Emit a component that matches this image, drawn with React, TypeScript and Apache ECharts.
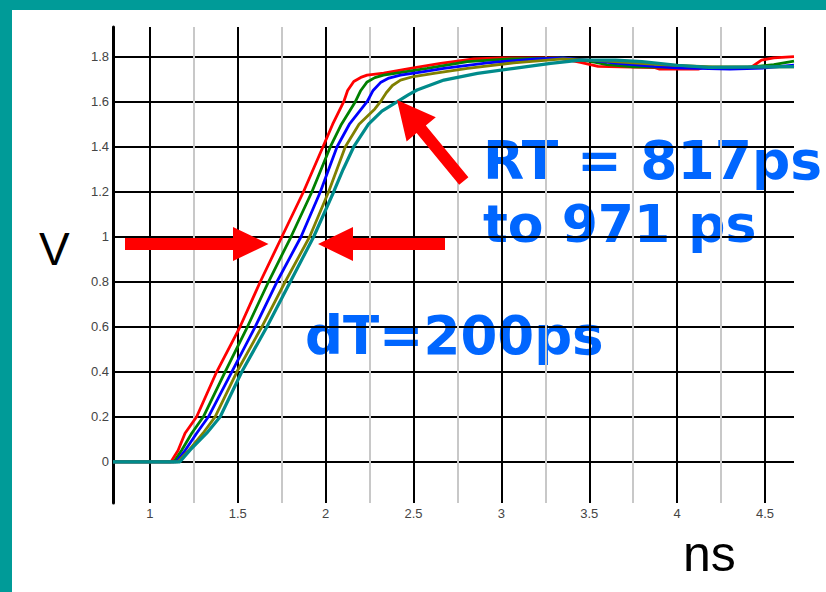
import React, { useEffect, useRef } from 'react';
import * as echarts from 'echarts';

// axis extents (ns, V)
const xMin = 0.79;
const xMax = 4.665;
const yMin = -0.183;
const yMax = 1.932;
const xStep = 0.5;
const yStep = 0.2;

// waveforms [ns, V]
const redData = [
  [0.79, 0], [1.12, 0], [1.16, 0.05], [1.2, 0.127], [1.266, 0.2], [1.38, 0.4], [1.513, 0.6],
  [1.628, 0.8], [1.751, 1.0], [1.874, 1.2], [1.985, 1.4], [2.04, 1.5], [2.103, 1.6], [2.125, 1.65],
  [2.16, 1.69], [2.2, 1.708], [2.236, 1.718], [2.33, 1.727], [2.483, 1.748], [2.654, 1.77], [2.843, 1.79],
  [3.0, 1.795], [3.32, 1.795], [3.45, 1.775], [3.55, 1.757], [3.87, 1.752], [3.9, 1.745],
  [4.12, 1.745], [4.15, 1.752], [4.42, 1.752], [4.48, 1.785], [4.55, 1.795], [4.665, 1.8],
];
const greenData = [
  [0.79, 0], [1.137, 0], [1.18, 0.05], [1.238, 0.127], [1.304, 0.2], [1.428, 0.4], [1.555, 0.6],
  [1.675, 0.8], [1.803, 1.0], [1.922, 1.2], [2.027, 1.4], [2.09, 1.5], [2.169, 1.6], [2.2, 1.65],
  [2.236, 1.688], [2.28, 1.707], [2.329, 1.718], [2.45, 1.733], [2.578, 1.748], [2.807, 1.778], [3.05, 1.79],
  [3.35, 1.795], [3.5, 1.78], [3.6, 1.765], [3.75, 1.755], [4.4, 1.752], [4.55, 1.765], [4.665, 1.78],
];
const blueData = [
  [0.79, 0], [1.149, 0], [1.2, 0.05], [1.266, 0.127], [1.333, 0.2], [1.466, 0.4], [1.599, 0.6],
  [1.723, 0.8], [1.86, 1.0], [1.97, 1.2], [2.065, 1.4], [2.135, 1.5], [2.236, 1.6], [2.27, 1.65],
  [2.312, 1.685], [2.36, 1.705], [2.426, 1.718], [2.55, 1.733], [2.673, 1.748], [2.92, 1.773], [3.2, 1.79],
  [3.35, 1.795], [3.55, 1.78], [3.66, 1.77], [3.87, 1.757], [4.0, 1.75], [4.3, 1.745], [4.5, 1.75],
  [4.665, 1.762],
];
const oliveData = [
  [0.79, 0], [1.16, 0], [1.22, 0.05], [1.302, 0.127], [1.371, 0.2], [1.495, 0.4], [1.637, 0.6],
  [1.77, 0.8], [1.909, 1.0], [2.017, 1.2], [2.112, 1.4], [2.19, 1.5], [2.28, 1.568], [2.312, 1.6],
  [2.345, 1.64], [2.38, 1.672], [2.426, 1.696], [2.5, 1.712], [2.616, 1.726], [2.807, 1.748],
  [3.07, 1.773], [3.35, 1.79], [3.6, 1.78], [3.9, 1.765], [4.2, 1.755], [4.665, 1.755],
];
const tealData = [
  [0.79, 0], [1.171, 0], [1.228, 0.052], [1.323, 0.127], [1.4, 0.2], [1.523, 0.4], [1.666, 0.6],
  [1.799, 0.8], [1.932, 1.0], [2.046, 1.2], [2.1, 1.3], [2.16, 1.4], [2.244, 1.5], [2.32, 1.558],
  [2.408, 1.6], [2.47, 1.63], [2.52, 1.652], [2.673, 1.696], [2.864, 1.726], [3.072, 1.748],
  [3.28, 1.77], [3.45, 1.785], [3.65, 1.785], [3.8, 1.778], [4.0, 1.762], [4.18, 1.753], [4.665, 1.756],
];

const seriesList = [redData, greenData, blueData, oliveData, tealData];
const seriesNames = ['Red', 'Green', 'Blue', 'Olive', 'Teal'];
const seriesColors = ['#ff0000', '#008000', '#0000ff', '#808000', '#008b8b'];
const seriesWidths = [2.8, 2.8, 2.8, 2.8, 3.2];

const annotationRT1 = 'RT = 817ps';
const annotationRT2 = 'to 971 ps';
const annotationDT = 'dT=200ps';
const yTitle = 'V';
const xTitle = 'ns';

export default function App() {
  const ref = useRef<HTMLDivElement>(null);
  useEffect(() => {
    const chart = echarts.init(ref.current as HTMLDivElement, null, { renderer: 'svg' });
    const blue = '#0066ff';
    const labelStyle = {
      showMinLabel: false,
      showMaxLabel: false,
      color: '#444',
      fontSize: 13,
      fontFamily: 'Liberation Sans',
    };
    chart.setOption({
      animation: false,
      backgroundColor: '#ffffff',
      grid: { left: 113, right: 32, top: 27, bottom: 89, containLabel: false, outerBoundsMode: 'none' },
      xAxis: {
        type: 'value',
        min: xMin,
        max: xMax,
        minInterval: xStep,
        maxInterval: xStep,
        axisLine: { show: false, onZero: false },
        axisTick: { show: false },
        axisLabel: { ...labelStyle, margin: 4 },
        splitLine: { show: true, showMinLine: false, showMaxLine: false, lineStyle: { color: '#000', width: 2 } },
        minorTick: { show: false, splitNumber: 2 },
        minorSplitLine: { show: true, lineStyle: { color: '#c8c8c8', width: 2 } },
      },
      yAxis: {
        type: 'value',
        min: yMin,
        max: yMax,
        minInterval: yStep,
        maxInterval: yStep,
        axisLine: { show: true, onZero: false, lineStyle: { color: '#000', width: 3 } },
        axisTick: { show: false },
        axisLabel: { ...labelStyle, margin: 4 },
        splitLine: { show: true, showMinLine: false, showMaxLine: false, lineStyle: { color: '#000', width: 2 } },
      },
      series: seriesList.map((d, i) => ({
        type: 'line',
        name: seriesNames[i],
        data: d,
        showSymbol: false,
        symbol: 'none',
        z: 3,
        lineStyle: { color: seriesColors[i], width: seriesWidths[i] },
        itemStyle: { color: seriesColors[i] },
      })),
      graphic: [
        { type: 'rect', z: -5, shape: { x: 0, y: 0, width: 12, height: 592 }, style: { fill: '#009b98' } },
        { type: 'rect', z: -5, shape: { x: 0, y: 0, width: 826, height: 10 }, style: { fill: '#009b98' } },
        { type: 'text', z: -1, x: 483, y: 160, style: { text: annotationRT1, font: 'bold 53.5px "DejaVu Sans"', fill: blue, textAlign: 'left', verticalAlign: 'middle' } },
        { type: 'text', z: -1, x: 483, y: 224, style: { text: annotationRT2, font: 'bold 52px "DejaVu Sans"', fill: blue, textAlign: 'left', verticalAlign: 'middle' } },
        { type: 'text', z: -1, x: 305, y: 335, style: { text: annotationDT, font: 'bold 53px "DejaVu Sans"', fill: blue, textAlign: 'left', verticalAlign: 'middle' } },
        { type: 'text', z: -1, x: 39, y: 249, style: { text: yTitle, font: '46px "Liberation Sans"', fill: '#000', textAlign: 'left', verticalAlign: 'middle' } },
        { type: 'text', z: -1, x: 683, y: 554, style: { text: xTitle, font: '50px "Liberation Sans"', fill: '#000', textAlign: 'left', verticalAlign: 'middle' } },
        {
          type: 'polygon', z: 20,
          shape: { points: [[125, 238], [233, 238], [233, 227], [268.5, 244], [233, 261], [233, 250], [125, 250]] },
          style: { fill: '#ff0000' },
        },
        {
          type: 'polygon', z: 20,
          shape: { points: [[445, 238], [353, 238], [353, 227], [318, 244], [353, 261], [353, 250], [445, 250]] },
          style: { fill: '#ff0000' },
        },
        {
          type: 'polygon', z: 20,
          shape: {
            points: [[397, 100], [406.6, 141.4], [416.6, 133.1], [459.2, 184.8], [468.4, 177.2], [425.8, 125.5], [435.8, 117.2]],
          },
          style: { fill: '#ff0000' },
        },
      ],
    });
    return () => chart.dispose();
  }, []);
  return (
    <div
      ref={ref}
      style={{ position: 'fixed', left: 0, top: 0, width: 826, height: 592, background: '#fff' }}
    />
  );
}
